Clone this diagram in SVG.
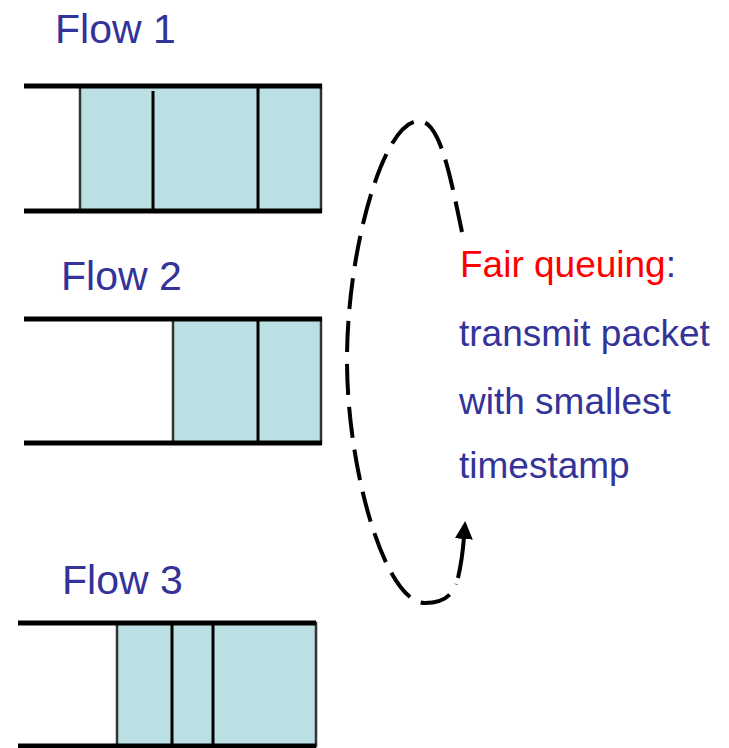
<svg xmlns="http://www.w3.org/2000/svg" width="729" height="748" viewBox="0 0 729 748">
  <style>
    .label { font-family: "Liberation Sans", Arial, sans-serif; fill: #333399; }
    .flow { font-size: 41px; }
    .note { font-size: 37px; }
    .hl { fill: #ff0000; }
    .rail { stroke: #000; stroke-width: 5; fill: none; }
    .pkt { fill: #bbe0e3; stroke: #333; stroke-width: 2.5; }
    .div { stroke: #000; stroke-width: 3; }
    .loop { fill: none; stroke: #000; stroke-width: 4; stroke-dasharray: 31 12; }
    .shaft { fill: none; stroke: #000; stroke-width: 4; }
  </style>
  <defs>
    <marker id="head" markerUnits="userSpaceOnUse" viewBox="0 0 18 18" markerWidth="18" markerHeight="18" refX="2" refY="9" orient="auto">
      <path d="M0,0 L18,9 L0,18 z" fill="#000"/>
    </marker>
  </defs>

  <!-- Flow 1 queue -->
  <g id="flow1">
    <text class="label flow" x="55" y="43">Flow 1</text>
    <rect class="pkt" x="80" y="86" width="241" height="125"/>
    <line class="div" x1="153" y1="91" x2="153" y2="211"/>
    <line class="div" x1="258" y1="86" x2="258" y2="211"/>
    <line class="rail" x1="24" y1="86" x2="322" y2="86"/>
    <line class="rail" x1="24" y1="211" x2="322" y2="211"/>
  </g>

  <!-- Flow 2 queue -->
  <g id="flow2">
    <text class="label flow" x="61" y="290">Flow 2</text>
    <rect class="pkt" x="173" y="319" width="148" height="124"/>
    <line class="div" x1="258" y1="319" x2="258" y2="443"/>
    <line class="rail" x1="24" y1="319" x2="322" y2="319"/>
    <line class="rail" x1="24" y1="443" x2="322" y2="443"/>
  </g>

  <!-- Flow 3 queue -->
  <g id="flow3">
    <text class="label flow" x="62" y="594">Flow 3</text>
    <rect class="pkt" x="117" y="623" width="199" height="123"/>
    <line class="div" x1="172" y1="623" x2="172" y2="746" stroke-width="3.5"/>
    <line class="div" x1="213" y1="623" x2="213" y2="746"/>
    <line class="rail" x1="18" y1="623" x2="316" y2="623"/>
    <line class="rail" x1="18" y1="746" x2="316" y2="746"/>
  </g>

  <!-- Scheduler description -->
  <g id="scheduler">
    <text class="label note" x="460" y="277" font-size="36"><tspan class="hl">Fair queuing</tspan>:</text>
    <text class="label note" x="459" y="346">transmit packet</text>
    <text class="label note" x="459" y="414">with smallest</text>
    <text class="label note" x="459" y="478">timestamp</text>
  </g>

  <!-- Round-robin loop over the queues, ending in a solid arrow shaft -->
  <g id="connectors">
    <path class="loop" d="M 462 232 C 450 175, 440 121, 419 121 C 383 121, 347 250, 347 360 C 347 470, 385 603, 425 603 C 444 603, 453 594, 456 584"/>
    <path class="shaft" marker-end="url(#head)" d="M 458 578 C 461 565, 463 550, 464 537"/>
  </g>
</svg>
